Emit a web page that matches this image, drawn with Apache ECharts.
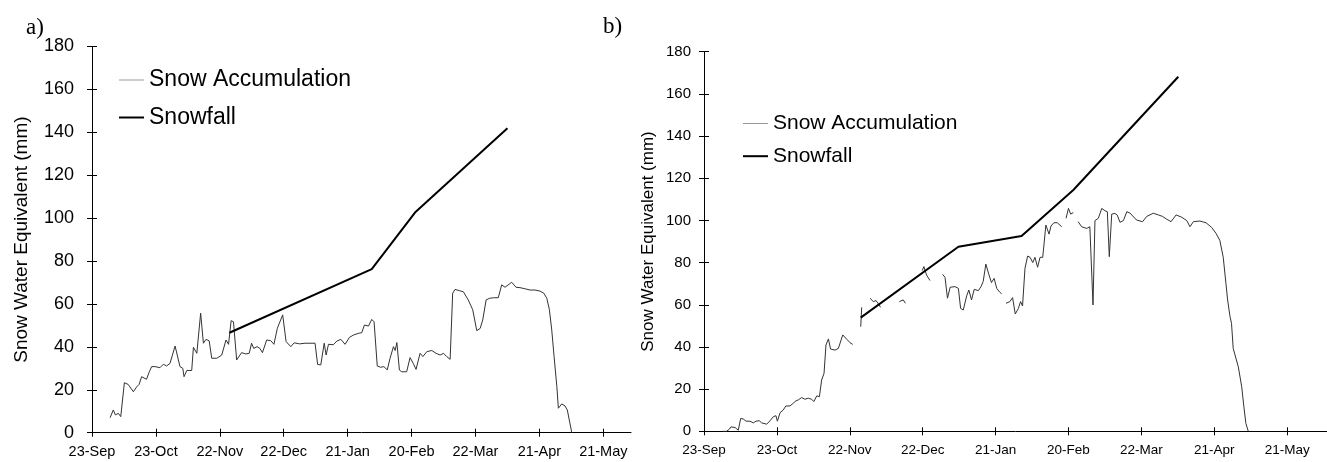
<!DOCTYPE html>
<html>
<head>
<meta charset="utf-8">
<script src="https://cdn.jsdelivr.net/npm/echarts@6/dist/echarts.min.js"></script>
<style>
body { margin: 0; background: #fff; }
#main { width: 1327px; height: 462px; }
</style>
</head>
<body>
<div id="main"></div>
<script>
// x values = days after 23-Sep, y values = snow water equivalent (mm)
const tickDays = [0, 30, 60, 90, 120, 150, 180, 210, 240];
const tickLabels = ["23-Sep", "23-Oct", "22-Nov", "22-Dec", "21-Jan", "20-Feb", "22-Mar", "21-Apr", "21-May"];
const yTicks = [0, 20, 40, 60, 80, 100, 120, 140, 160, 180];

// panel a) snow accumulation
const aDay = [8.5, 10, 11, 12.4, 13.5, 14.2, 15.2, 17, 19.4, 21, 22.1, 23.3, 25.6, 26.9, 28, 29.6, 31.9, 33.5, 35, 36.6,
  39, 41.3, 42.6, 43.2, 44.5, 46.8, 47.6, 49.2, 51, 52.3, 53.5, 55, 56.2, 58.6, 60.9, 62.9, 64.1, 65.3, 66.4, 67.9,
  70.2, 72.2, 73.8, 74.9, 75.9, 77.5, 78.8, 80, 82, 83.9, 85.4, 87, 89.5, 91.1, 93.3, 94.9, 97.4, 100, 104.7, 105.9,
  107.4, 109, 109.9, 111, 113.3, 114.9, 116.8, 118.8, 120.8, 122.7, 125, 126.6, 127.9, 129.8, 131.3, 132.4, 133.9, 135.5, 137, 138.6,
  139.9, 141.5, 142.3, 143.1, 144.3, 145.4, 147.7, 149.3, 150.8, 152.1, 154, 155.3, 157.2, 159.5, 161.5, 163.4, 165, 166.5, 168.1, 169.3,
  170.4, 172.4, 174.3, 176.6, 178.7, 180.6, 182.2, 183.4, 185, 186.5, 188.4, 190.7, 192.3, 193.9, 195.9, 197, 199, 200.9, 203.2, 205.6,
  207.9, 210.3, 212.1, 213.5, 214.7, 215.8, 216.9, 218.2, 218.9, 220.5, 222, 223.1, 225.2];
const aSwe = [7, 10.6, 8.3, 9, 7.5, 6.6, 23.3, 22.5, 19.1, 21.4, 22.5, 26.1, 24.9, 28.4, 30.8, 30.8, 30.3, 31.9, 31.1, 32.3,
  40.4, 30.8, 30, 26.1, 29, 29, 39.8, 37, 55.7, 41.7, 43.5, 42.8, 34.7, 34.7, 36.2, 43.2, 41.2, 52.2, 51.7, 33.9,
  37.3, 36.7, 37, 41.7, 39.3, 40.1, 39.3, 37.3, 43.2, 42.9, 41.2, 48.7, 54.9, 42.5, 40.1, 41.9, 41.4, 41.7, 41.7, 31.8,
  31.6, 41.7, 36.2, 41.2, 41, 42.7, 43.5, 41.2, 44.4, 45.5, 46.3, 46.6, 50.2, 49.7, 52.8, 51.7, 31.1, 30.5, 30.8, 29.3,
  34.7, 40.1, 38.3, 42, 29.2, 28.4, 28.4, 35, 32.3, 29.5, 37, 35.5, 37.8, 38.3, 37, 36.2, 37, 35.5, 34.2, 65,
  66.8, 66.2, 65.7, 61.9, 57.3, 47.6, 48.6, 52.5, 61.9, 62.6, 62.9, 62.9, 68.9, 67.8, 69.3, 70.1, 67.8, 67.6, 67.1, 66.5,
  66.5, 66, 65, 62.6, 57.3, 47.9, 35.5, 21.4, 11.4, 13.4, 12.5, 10.6, 0];
// panel a) snowfall
const aFallDay = [64.5, 131.3, 151.6, 195];
const aFall = [46.6, 76.2, 102.6, 141.9];

// panel b) snow accumulation, null = missing record
const bDay = [7.9, 9.3, 10.4, 11.1, 12.8, 14.1, 15.1, 16.2, 17.3, 18.9, 20.3, 21.4, 22.8, 23.7, 25.8, 27.2, 28.5, 29.6, 30.2, 31.3,
  32.6, 33.7, 35.4, 36.7, 37.8, 38.8, 40.2, 41.5, 42.9, 44.3, 45.2, 46.4, 47.5, 48.4, 49.4, 50.2, 51.2, 52.1, 53.9, 55.3,
  57.1, 58.8, 60.1, 61.2, 62.5, 64.5, 64.9, 66.5, 68.3, 69.7, 70.8, 71.8, 72.7, 76, 80.4, 82, 82.9, 86, 89.8, 90.5,
  91.6, 93, 95, 98.2, 99.2, 100.2, 101.3, 103.3, 104.7, 105.6, 106.7, 108.1, 109, 110.1, 111.2, 112.9, 114, 114.9, 116, 117.2,
  118.3, 119.4, 120.5, 121.7, 122.5, 123.5, 124.3, 125.9, 127, 128.1, 129.4, 130.3, 131.1, 132.1, 133.2, 134.2, 135.3, 136.2, 137.3, 138.3,
  139.4, 139.9, 140.7, 142, 142.8, 144, 145.4, 147.2, 148, 149, 150, 150.9, 152, 153, 154, 155.4, 157.5, 158.8, 159.6, 160.1,
  160.9, 162.3, 163, 163.7, 165, 166, 166.8, 167.8, 169.1, 170.1, 171.2, 172.6, 174, 175.3, 178, 180.5, 182.2, 184.9, 187, 188.7,
  190.4, 192.2, 194.3, 196.6, 198.7, 200, 201.4, 204.1, 206.6, 208.9, 210.7, 212.3, 213.7, 214.8, 215.5, 216.5, 217.1, 217.8, 219.9, 221.3,
  222.2, 223, 224];
const bSwe = [0, 0, 1, 2.1, 1.8, 0.5, 6.1, 5.8, 4.8, 4.8, 4, 4.8, 5, 4, 3.4, 5, 6.9, 7.4, 4.8, 8.8,
  10.1, 12, 12, 13.3, 14.4, 14.9, 16, 15.2, 15.7, 15.2, 14.1, 16.8, 16.4, 24.3, 27.5, 40.9, 43.8, 39, 38.5, 39.3,
  45.7, 43.6, 42, 41.2, null, 49.6, 58.8, null, 63.1, 61.5, 62, 60.4, 58.8, null, 61.5, 62.3, 60.7, null, 76.2, 78.1,
  74.1, 71.5, null, 74.4, 73, 63.1, 68.3, 68.6, 67.8, 58.3, 57.5, 64.2, 67, 62.3, 67.3, 66.7, 68.6, 71, 79.3, 74.5,
  70.5, 72.5, 67.7, 66, 65.2, null, 60.7, 61.5, 63.4, 55.6, 58.3, 61.5, 59.4, 77.3, 83.1, 82.5, 80, 82.5, 77.8, 82.5,
  82.5, 88.3, 97.8, 93.5, 97.3, 98.9, 98.9, 97, null, 101, 105.7, 103, 103.7, null, 99.4, 97, 96.2, 97, 96.5, 59.9,
  99.9, 101, 100.5, 105.7, 104.6, 104.1, 82.8, 103, 103.3, 102.5, 99.1, 99.9, 104.1, 103.5, 100.2, 99.4, 101.9, 103.4, 102.6, 101.9,
  100.6, 99.4, 102.6, 101.5, 99.9, 97, 99.4, 99.7, 98.9, 96.7, 93.9, 90.5, 82.5, 70.2, 62.3, 54.3, 51.2, 39.3, 30.6, 21.1,
  11.6, 3.8, 0];
// panel b) snowfall
const bFallDay = [64.5, 104.7, 130.7, 152, 195.2];
const bFall = [53.9, 87.5, 92.6, 114.4, 168.1];

const pairs = (xs, ys) => xs.map((x, i) => [x, ys[i] === null ? "-" : ys[i]]);

const font = "Liberation Sans, Arial, sans-serif";
const serif = "Liberation Serif, Times New Roman, serif";

function xAxes(grid, max, size) {
  const base = {
    type: "value",
    gridIndex: grid,
    position: "bottom",
    min: 0,
    max: max,
    splitLine: { show: false },
    axisLine: { show: true, lineStyle: { color: "#000", width: 1 } }
  };
  return [
    Object.assign({}, base, {
      axisTick: { show: true, length: 4, customValues: tickDays, lineStyle: { color: "#000" } },
      axisLabel: {
        customValues: tickDays,
        margin: 12,
        color: "#000",
        fontFamily: font,
        fontSize: size,
        formatter: v => tickLabels[Math.round(v / 30)]
      }
    }),
    Object.assign({}, base, {
      axisLine: { show: false },
      axisTick: { show: true, inside: true, length: 4, customValues: tickDays, lineStyle: { color: "#000" } },
      axisLabel: { show: false }
    })
  ];
}

function yAxes(grid, size, nameSize, nameGap, margin) {
  const base = {
    type: "value",
    gridIndex: grid,
    position: "left",
    min: 0,
    max: 180,
    interval: 20,
    splitLine: { show: false },
    axisLine: { show: true, lineStyle: { color: "#000", width: 1 } }
  };
  return [
    Object.assign({}, base, {
      name: "Snow Water Equivalent (mm)",
      nameLocation: "middle",
      nameGap: nameGap,
      nameTextStyle: { color: "#000", fontFamily: font, fontSize: nameSize },
      axisTick: { show: true, length: 5, lineStyle: { color: "#000" } },
      axisLabel: { margin: margin, color: "#000", fontFamily: font, fontSize: size }
    }),
    Object.assign({}, base, {
      axisLine: { show: false },
      axisTick: { show: true, inside: true, length: 5, lineStyle: { color: "#000" } },
      axisLabel: { show: false }
    })
  ];
}

function legend(id, left, top, size, gap) {
  return {
    id: id,
    orient: "vertical",
    left: left,
    top: top,
    padding: 0,
    itemWidth: 25,
    itemHeight: 10,
    itemGap: gap,
    itemStyle: { opacity: 0 },
    textStyle: { color: "#000", fontFamily: font, fontSize: size, lineHeight: size },
    data: [
      { name: "Snow Accumulation", lineStyle: { color: "#999", width: 1 } },
      { name: "Snowfall" }
    ]
  };
}

var myChart = echarts.init(document.getElementById("main"));

myChart.setOption({
  animation: false,
  backgroundColor: "#fff",
  title: [
    { text: "a)", left: 21, top: 11, textStyle: { fontFamily: serif, fontWeight: "normal", fontSize: 23, color: "#000" } },
    { text: "b)", left: 598, top: 10, textStyle: { fontFamily: serif, fontWeight: "normal", fontSize: 23, color: "#000" } }
  ],
  grid: [
    { left: 92, top: 46.5, width: 539, height: 386.2, outerBoundsMode: "none" },
    { left: 704, top: 51.7, width: 623, height: 379.6, outerBoundsMode: "none" }
  ],
  legend: [
    legend("la", 118, 68.5, 23, 14.5),
    legend("lb", 742, 113, 21, 11.7)
  ],
  xAxis: xAxes(0, 253, 14.5).concat(xAxes(1, 256.4, 13.5)),
  yAxis: yAxes(0, 18, 19, 61, 18).concat(yAxes(1, 15, 17, 47, 13)),
  series: [
    {
      name: "Snow Accumulation",
      type: "line",
      xAxisIndex: 0,
      yAxisIndex: 0,
      symbol: "none",
      lineStyle: { color: "#333", width: 1 },
      itemStyle: { color: "#333" },
      data: pairs(aDay, aSwe)
    },
    {
      name: "Snowfall",
      type: "line",
      xAxisIndex: 0,
      yAxisIndex: 0,
      symbol: "none",
      lineStyle: { color: "#000", width: 2 },
      itemStyle: { color: "#000" },
      data: pairs(aFallDay, aFall)
    },
    {
      name: "Snow Accumulation",
      type: "line",
      xAxisIndex: 2,
      yAxisIndex: 2,
      symbol: "none",
      connectNulls: false,
      lineStyle: { color: "#333", width: 1 },
      itemStyle: { color: "#333" },
      data: pairs(bDay, bSwe)
    },
    {
      name: "Snowfall",
      type: "line",
      xAxisIndex: 2,
      yAxisIndex: 2,
      symbol: "none",
      lineStyle: { color: "#000", width: 2 },
      itemStyle: { color: "#000" },
      data: pairs(bFallDay, bFall)
    }
  ]
});
</script>
</body>
</html>
